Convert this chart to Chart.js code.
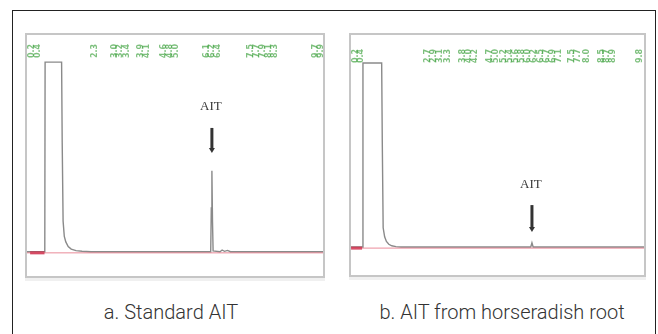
<!DOCTYPE html>
<html>
<head>
<meta charset="utf-8">
<script src="https://cdn.jsdelivr.net/npm/chart.js@4.4.1/dist/chart.umd.min.js"></script>
<style>
  html, body { margin: 0; padding: 0; background: #fff; }
  body { width: 658px; height: 334px; position: relative; overflow: hidden; }
  #frame {
    position: absolute; left: 12px; top: 10px; width: 642px; height: 340px;
    border-top: 1px solid #222; border-left: 1px solid #222; border-right: 1px solid #222;
  }
  canvas { position: absolute; }
  #chartA { left: 20px; top: 28px; }
  #chartB { left: 344px; top: 28px; }
  .caption {
    position: absolute; top: 300px; font-family: Roboto, 'Liberation Sans', sans-serif;
    font-weight: 300; font-size: 20px; color: #333; white-space: nowrap;
    transform: translateX(-50%);
  }
</style>
</head>
<body>
<div id="frame"></div>
<canvas id="chartA" width="310" height="255"></canvas>
<canvas id="chartB" width="307" height="254"></canvas>
<div class="caption" style="left:171px">a. Standard AIT</div>
<div class="caption" style="left:502px">b. AIT from horseradish root</div>

<script>
// --- chromatogram a: standard AIT (time in 0.1 min, detector signal in arbitrary units) ---
const timeA   = [0, 6.6, 6.7, 12.2, 12.4, 12.7, 13.1, 13.6, 14.4, 15.4, 17, 19, 22, 61.9, 62.1, 62.3, 62.5, 62.7, 65, 65.7, 66.5, 67.5, 68.5, 100];
const signalA = [0, 0, 86.7, 86.7, 50, 14, 7, 4.5, 2.4, 1.2, 0.5, 0.2, 0, 0, 20, 37, 14, 0.4, 0, 0.8, 0.2, 0.6, 0, 0];

// --- chromatogram b: AIT from horseradish root ---
const timeB   = [0, 4.6, 4.7, 11.0, 11.2, 11.5, 12.0, 12.6, 13.4, 14.4, 15.8, 17.5, 61.2, 61.6, 62.0, 100];
const signalB = [0, 0, 86, 86, 50, 9, 4.8, 2.6, 1.3, 0.6, 0.2, 0, 0, 2, 0, 0];

// integration baseline and start marker
const baseRangeA = [0, 100];
const baseRangeB = [0, 100];
const startMarkA = [1.7, 6.5];
const startMarkB = [0.7, 4.4];

// retention-time labels printed by the integrator along the top
const rtLabelsA = [2.4, 4.2, 23.3, 30.0, 31.8, 34.0, 38.6, 40.6, 46.4, 48.4, 50.4, 60.6, 62.4, 64.2, 75.2, 77.2, 79.2, 81.2, 83.2, 97.0, 98.8];
const rtLabelsB = [2.2, 4.0, 26.6, 28.6, 30.6, 33.4, 38.4, 40.4, 42.4, 47.4, 49.6, 52.2, 54.2, 56.2, 58.2, 60.2, 62.2, 64.6, 66.6, 68.6, 70.6, 75.0, 77.0, 80.2, 85.0, 87.0, 89.0, 97.8];

// AIT annotation: [peak time, label level, arrow top level, arrow tip level]
const aitMarkA = [62.3, 66.2, 56.6, 45.1];
const aitMarkB = [61.6, 29.0, 19.6, 7.0];

const toXY = (xs, ys) => xs.map((x, i) => ({ x: x, y: ys[i] }));

const panelDecor = {
  id: 'panelDecor',
  afterDatasetsDraw(chart, args, opts) {
    const ctx = chart.ctx;
    const a = chart.chartArea;
    const sx = chart.scales.x, sy = chart.scales.y;
    ctx.save();

    // retention time labels (green, rotated)
    ctx.fillStyle = 'rgba(70,165,70,0.7)';
    ctx.font = 'bold 8px "DejaVu Sans"';
    ctx.textBaseline = 'middle';
    opts.rtLabels.forEach(t => {
      const px = sx.getPixelForValue(t);
      ctx.save();
      ctx.translate(px, opts.rowBottom);
      ctx.rotate(-Math.PI / 2);
      ctx.textAlign = 'left';
      ctx.fillText((t / 10).toFixed(1), 0, 0);
      ctx.restore();
    });

    // AIT label and arrow
    const m = opts.mark;
    const px = sx.getPixelForValue(m[0]);
    ctx.fillStyle = '#3a3a3a';
    ctx.font = '13px "Liberation Serif"';
    ctx.textAlign = 'center';
    ctx.textBaseline = 'middle';
    ctx.fillText('AIT', px - 1, sy.getPixelForValue(m[1]));
    const yTop = sy.getPixelForValue(m[2]);
    const yTip = sy.getPixelForValue(m[3]);
    ctx.strokeStyle = '#333';
    ctx.lineWidth = 3;
    ctx.beginPath();
    ctx.moveTo(px, yTop);
    ctx.lineTo(px, yTip - 4);
    ctx.stroke();
    ctx.beginPath();
    ctx.moveTo(px - 3, yTip - 5);
    ctx.lineTo(px + 3, yTip - 5);
    ctx.lineTo(px, yTip);
    ctx.closePath();
    ctx.fillStyle = '#333';
    ctx.fill();

    // panel frame
    ctx.strokeStyle = '#c6c6c6';
    ctx.lineWidth = 2;
    ctx.strokeRect(a.left + 1, a.top + 1, a.right - a.left - 2, a.bottom - a.top - 2);
    ctx.fillStyle = 'rgba(0,0,0,0.06)';
    ctx.fillRect(a.left, a.bottom, a.right - a.left, 3);
    ctx.restore();
  }
};

function makeChart(id, times, signal, baseRange, startMark, yMin, rtLabels, mark, rowBottom) {
  return new Chart(document.getElementById(id), {
    type: 'line',
    data: {
      datasets: [
        {
          data: toXY(baseRange, [-0.5, -0.5]),
          borderColor: 'rgba(225,90,110,0.7)',
          borderWidth: 1
        },
        {
          data: toXY(startMark, [-0.5, -0.5]),
          borderColor: 'rgba(205,40,70,0.85)',
          borderWidth: 3
        },
        {
          data: toXY(times, signal),
          borderColor: '#8a8a8a',
          borderWidth: 1.4
        }
      ]
    },
    options: {
      responsive: false,
      animation: false,
      devicePixelRatio: 1,
      layout: { padding: 5 },
      elements: { point: { radius: 0 }, line: { tension: 0 } },
      scales: {
        x: { type: 'linear', min: 0, max: 100, display: false },
        y: { type: 'linear', min: yMin, max: 100, display: false }
      },
      plugins: {
        legend: { display: false },
        tooltip: { enabled: false },
        panelDecor: { rtLabels: rtLabels, mark: mark, rowBottom: rowBottom }
      }
    },
    plugins: [panelDecor]
  });
}

makeChart('chartA', timeA, signalA, baseRangeA, startMarkA, -12, rtLabelsA, aitMarkA, 30);
makeChart('chartB', timeB, signalB, baseRangeB, startMarkB, -14, rtLabelsB, aitMarkB, 35);
</script>
</body>
</html>
